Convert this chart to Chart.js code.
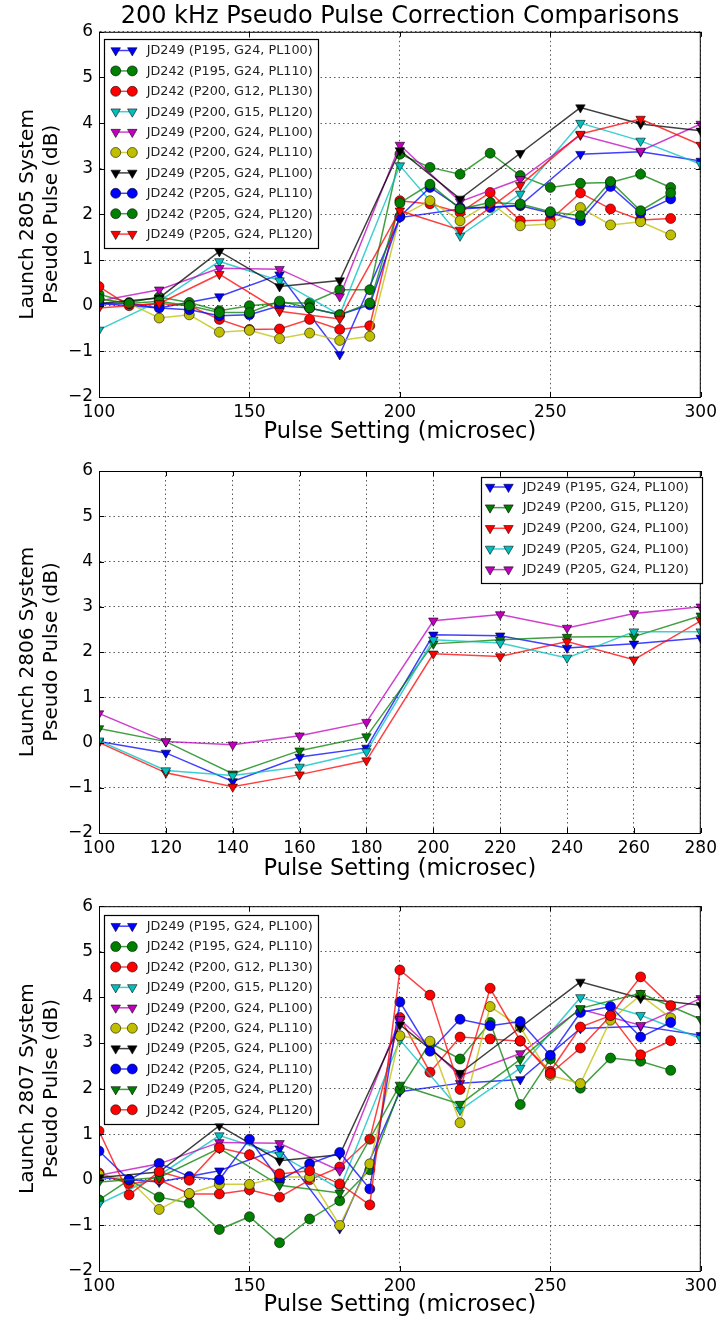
<!DOCTYPE html>
<html>
<head>
<meta charset="utf-8">
<script src="https://cdn.jsdelivr.net/npm/chart.js@4/dist/chart.umd.min.js"></script>
<style>
  html, body { margin: 0; padding: 0; background: #fff; }
  #wrap { position: relative; width: 722px; height: 1323px; }
  canvas { position: absolute; left: 0; }
</style>
</head>
<body>
<div id="wrap">
  <canvas id="c1" width="722" height="450" style="top:0px"></canvas>
  <canvas id="c2" width="722" height="440" style="top:450px"></canvas>
  <canvas id="c3" width="722" height="433" style="top:890px"></canvas>
</div>
<script>
// x positions
var X10 = [100, 110, 120, 130, 140, 150, 160, 170, 180, 190, 200, 210, 220, 230, 240, 250, 260, 270, 280, 290];
var X20 = [100, 120, 140, 160, 180, 200, 220, 240, 260, 280, 300];
var X20short = [100, 120, 140, 160, 180, 200, 220, 240, 260, 280];
var yTicks = [-2, -1, 0, 1, 2, 3, 4, 5, 6];

// JD249 runs (shared by launch 2805 and 2807)
var jd249_p195_g24_pl100 = [0.05, -0.05, 0.2, 0.68, -1.07, 1.93, 2.12, 2.2, 3.32, 3.37, 3.17];
var jd249_p200_g15_pl120 = [-0.53, 0.1, 0.97, 0.55, -0.2, 3.07, 1.53, 2.45, 4.0, 3.61, 3.1];
var jd249_p200_g24_pl100 = [0.1, 0.35, 0.82, 0.8, 0.2, 3.52, 2.28, 2.77, 3.74, 3.39, 3.98];
var jd249_p205_g24_pl100 = [0.05, 0.17, 1.19, 0.42, 0.55, 3.4, 2.34, 3.34, 4.34, 3.98, 3.83];
var jd249_p205_g24_pl120 = [-0.05, 0.05, 0.69, -0.12, -0.29, 2.08, 1.66, 2.64, 3.76, 4.09, 3.52];

// launch 2805, JD242 runs
var l2805_jd242_p195_pl110 = [0.25, 0.07, 0.19, 0.07, -0.11, 0.0, 0.06, 0.06, 0.35, 0.35, 3.32, 3.03, 2.88, 3.34, 2.85, 2.59, 2.68, 2.7, 2.88, 2.59];
var l2805_jd242_p200_g12_pl130 = [0.42, 0.0, 0.05, 0.0, -0.3, -0.52, -0.51, -0.3, -0.52, -0.44, 2.3, 2.23, 2.04, 2.48, 1.86, 1.88, 2.47, 2.12, 1.88, 1.91];
var l2805_jd242_p200_pl110 = [0.15, 0.05, -0.27, -0.2, -0.58, -0.54, -0.72, -0.6, -0.76, -0.67, 1.95, 2.3, 1.86, 2.26, 1.75, 1.79, 2.15, 1.77, 1.84, 1.55];
var l2805_jd242_p205_pl110 = [0.05, 0.05, -0.05, -0.09, -0.22, -0.2, 0.0, -0.05, -0.2, 0.02, 1.95, 2.59, 2.15, 2.15, 2.19, 2.03, 1.86, 2.61, 2.03, 2.34];
var l2805_jd242_p205_pl120 = [0.15, 0.05, 0.1, 0.0, -0.15, -0.15, 0.1, -0.05, -0.2, 0.06, 2.25, 2.66, 2.12, 2.26, 2.23, 2.06, 1.97, 2.72, 2.08, 2.47];

// launch 2806
var l2806_p195_g24_pl100 = [0.02, -0.23, -0.86, -0.32, -0.12, 2.38, 2.36, 2.09, 2.18, 2.31];
var l2806_p200_g15_pl120 = [0.31, 0.02, -0.69, -0.18, 0.13, 2.18, 2.27, 2.33, 2.34, 2.8];
var l2806_p200_g24_pl100 = [0.0, -0.67, -0.98, -0.71, -0.4, 1.96, 1.9, 2.23, 1.83, 2.69];
var l2806_p205_g24_pl100 = [0.04, -0.62, -0.73, -0.54, -0.2, 2.27, 2.2, 1.87, 2.45, 2.45];
var l2806_p205_g24_pl120 = [0.64, 0.02, -0.05, 0.15, 0.45, 2.69, 2.83, 2.53, 2.85, 3.0];

// launch 2807, JD242 runs
var l2807_jd242_p195_pl110 = [-0.44, 0.0, -0.38, -0.51, -1.09, -0.81, -1.38, -0.86, -0.46, 0.22, 1.98, 3.0, 2.65, 3.45, 1.65, 2.65, 2.01, 2.67, 2.6, 2.4];
var l2807_jd242_p200_g12_pl130 = [0.15, -0.09, 0.0, -0.31, -0.31, -0.22, -0.38, 0.0, 0.28, 0.89, 3.56, 2.36, 3.13, 3.09, 3.04, 2.38, 3.35, 3.6, 2.74, 3.05];
var l2807_jd242_p200_pl110 = [0.11, 0.0, -0.65, -0.3, -0.1, -0.1, 0.06, 0.06, -1.0, 0.35, 3.16, 3.04, 1.25, 3.8, 3.35, 2.29, 2.11, 3.5, 4.05, 3.55];
var l2807_jd242_p205_pl110 = [0.63, 0.0, 0.36, 0.07, 0.0, 0.89, -0.01, 0.35, 0.6, -0.2, 3.9, 2.82, 3.52, 3.38, 3.47, 2.73, 3.67, 3.8, 3.13, 3.45];
var l2807_jd242_p205_pl120 = [1.07, -0.33, 0.18, -0.01, 0.7, 0.55, 0.13, 0.2, -0.09, -0.55, 4.6, 4.05, 1.98, 4.2, 3.05, 2.33, 2.89, 3.6, 4.45, 3.82];

var COLORS = {
  b: [0, 0, 255], g: [0, 128, 0], r: [255, 0, 0], c: [0, 191, 191],
  m: [191, 0, 191], y: [191, 191, 0], k: [0, 0, 0]
};

function rgba(c, a) {
  var v = COLORS[c];
  return "rgba(" + v[0] + "," + v[1] + "," + v[2] + "," + a + ")";
}

function series(label, xs, ys, c, marker, i) {
  var tri = marker === "v";
  return {
    label: label,
    data: xs.map(function (x, k) { return { x: x, y: ys[k] }; }),
    borderColor: rgba(c, 0.75),
    backgroundColor: rgba(c, 1),
    pointBackgroundColor: rgba(c, 1),
    pointBorderColor: "rgba(0,0,0,0.7)",
    pointBorderWidth: 0.8,
    pointStyle: tri ? "triangle" : "circle",
    pointRotation: tri ? 180 : 0,
    pointRadius: tri ? 5.5 : 5,
    pointHoverRadius: tri ? 5.5 : 5,
    borderWidth: 1.5,
    tension: 0,
    fill: false,
    order: 100 - i
  };
}

// legend drawn inside the axes, matplotlib style
var boxLegend = {
  id: "boxLegend",
  afterDatasetsDraw: function (chart, args, o) {
    var ctx = chart.ctx, a = chart.chartArea;
    ctx.save();
    // axes frame + inward ticks
    ctx.strokeStyle = "#000";
    ctx.lineWidth = 1;
    ctx.strokeRect(a.left + 0.5, a.top + 0.5, a.right - a.left - 1, a.bottom - a.top);
    var xs = chart.scales.x, ys = chart.scales.y;
    ctx.beginPath();
    xs.ticks.forEach(function (t) {
      var px = Math.round(xs.getPixelForValue(t.value)) + 0.5;
      ctx.moveTo(px, a.bottom); ctx.lineTo(px, a.bottom - 5);
      ctx.moveTo(px, a.top); ctx.lineTo(px, a.top + 5);
    });
    ys.ticks.forEach(function (t) {
      var py = Math.round(ys.getPixelForValue(t.value)) + 0.5;
      ctx.moveTo(a.left, py); ctx.lineTo(a.left + 5, py);
      ctx.moveTo(a.right, py); ctx.lineTo(a.right - 5, py);
    });
    ctx.stroke();

    if (!o || !o.show) { ctx.restore(); return; }
    var bx = o.right ? a.right - o.dx - o.w : a.left + o.dx;
    var by = a.top + o.dy;
    ctx.fillStyle = "#fff";
    ctx.fillRect(bx, by, o.w, o.h);
    ctx.strokeStyle = "#000";
    ctx.lineWidth = 1.2;
    ctx.strokeRect(Math.round(bx) + 0.5, Math.round(by) + 0.5, o.w, o.h);
    ctx.font = "12.8px 'DejaVu Sans', sans-serif";
    ctx.textBaseline = "middle";
    ctx.textAlign = "left";
    chart.data.datasets.forEach(function (ds, i) {
      var y = by + o.first + i * o.step;
      ctx.strokeStyle = ds.borderColor;
      ctx.lineWidth = ds.borderWidth;
      ctx.beginPath();
      ctx.moveTo(bx + o.m1, y); ctx.lineTo(bx + o.m2, y);
      ctx.stroke();
      [o.m1, o.m2].forEach(function (mx) {
        ctx.fillStyle = ds.pointBackgroundColor;
        ctx.strokeStyle = ds.pointBorderColor;
        ctx.lineWidth = ds.pointBorderWidth;
        Chart.helpers.drawPoint(ctx, {
          pointStyle: ds.pointStyle, rotation: ds.pointRotation,
          radius: ds.pointRadius, borderWidth: ds.pointBorderWidth
        }, bx + mx, y);
      });
      ctx.fillStyle = "#222";
      ctx.fillText(ds.label, bx + o.tx, y + 0.5);
    });
    ctx.restore();
  }
};

Chart.defaults.font.family = "'DejaVu Sans', sans-serif";
Chart.defaults.color = "#000";

function makeOptions(cfg) {
  return {
    responsive: false,
    animation: false,
    layout: { padding: { top: cfg.padTop, right: 18, left: 0, bottom: 0 } },
    plugins: {
      legend: { display: false },
      tooltip: { enabled: false },
      title: cfg.title ? {
        display: true, text: cfg.title, fullSize: false, color: "#000",
        font: { size: 24, weight: "normal", lineHeight: 1.2 },
        padding: { top: 2, bottom: 1 }
      } : { display: false },
      boxLegend: cfg.legend
    },
    scales: {
      x: {
        type: "linear", min: cfg.xmin, max: cfg.xmax,
        ticks: {
          stepSize: cfg.xstep, autoSkip: false, maxRotation: 0, padding: 5,
          color: "#000", font: { size: 17 },
          callback: function (v) { return String(v); }
        },
        grid: { color: "rgba(0,0,0,0.65)", lineWidth: 1, drawTicks: false, borderDash: [1.5, 3] },
        border: { display: true, color: "rgba(0,0,0,0)", dash: [1.5, 3] },
        title: {
          display: true, text: "Pulse Setting (microsec)", color: "#000",
          font: { size: 22.5 }, padding: { top: 0, bottom: cfg.xTitlePad }
        },
        afterFit: function (s) { s.height = cfg.xHeight; }
      },
      y: {
        min: -2, max: 6,
        afterBuildTicks: function (s) { s.ticks = yTicks.map(function (v) { return { value: v }; }); },
        ticks: {
          padding: 6, color: "#000", font: { size: 17 },
          callback: function (v) { return v < 0 ? "\u2212" + Math.abs(v) : String(v); }
        },
        grid: { color: "rgba(0,0,0,0.65)", lineWidth: 1, drawTicks: false, borderDash: [1.5, 3] },
        border: { display: true, color: "rgba(0,0,0,0)", dash: [1.5, 3] },
        title: {
          display: true, text: cfg.ylabel, color: "#000",
          font: { size: 20, lineHeight: 1.2 }, padding: { top: 16, bottom: 0 }
        },
        afterFit: function (s) { s.width = 99; }
      }
    }
  };
}

var legendTall = { show: true, dx: 5, dy: 7, w: 214, h: 209, first: 11.7, step: 20.4, m1: 11.7, m2: 28.3, tx: 42.7 };

function drawCharts() {
  var names1 = [
    "JD249 (P195, G24, PL100)", "JD242 (P195, G24, PL110)", "JD242 (P200, G12, PL130)",
    "JD249 (P200, G15, PL120)", "JD249 (P200, G24, PL100)", "JD242 (P200, G24, PL110)",
    "JD249 (P205, G24, PL100)", "JD242 (P205, G24, PL110)", "JD242 (P205, G24, PL120)",
    "JD249 (P205, G24, PL120)"
  ];
  new Chart(document.getElementById("c1").getContext("2d"), {
    type: "line",
    data: {
      datasets: [
        series(names1[0], X20, jd249_p195_g24_pl100, "b", "v", 0),
        series(names1[1], X10, l2805_jd242_p195_pl110, "g", "o", 1),
        series(names1[2], X10, l2805_jd242_p200_g12_pl130, "r", "o", 2),
        series(names1[3], X20, jd249_p200_g15_pl120, "c", "v", 3),
        series(names1[4], X20, jd249_p200_g24_pl100, "m", "v", 4),
        series(names1[5], X10, l2805_jd242_p200_pl110, "y", "o", 5),
        series(names1[6], X20, jd249_p205_g24_pl100, "k", "v", 6),
        series(names1[7], X10, l2805_jd242_p205_pl110, "b", "o", 7),
        series(names1[8], X10, l2805_jd242_p205_pl120, "g", "o", 8),
        series(names1[9], X20, jd249_p205_g24_pl120, "r", "v", 9)
      ]
    },
    options: makeOptions({
      title: "200 kHz Pseudo Pulse Correction Comparisons", padTop: 0,
      xmin: 100, xmax: 300, xstep: 50, xHeight: 53, xTitlePad: 4,
      ylabel: ["Launch 2805 System", "Pseudo Pulse (dB)"], legend: legendTall
    }),
    plugins: [boxLegend]
  });

  new Chart(document.getElementById("c2").getContext("2d"), {
    type: "line",
    data: {
      datasets: [
        series("JD249 (P195, G24, PL100)", X20short, l2806_p195_g24_pl100, "b", "v", 0),
        series("JD249 (P200, G15, PL120)", X20short, l2806_p200_g15_pl120, "g", "v", 1),
        series("JD249 (P200, G24, PL100)", X20short, l2806_p200_g24_pl100, "r", "v", 2),
        series("JD249 (P205, G24, PL100)", X20short, l2806_p205_g24_pl100, "c", "v", 3),
        series("JD249 (P205, G24, PL120)", X20short, l2806_p205_g24_pl120, "m", "v", 4)
      ]
    },
    options: makeOptions({
      padTop: 21, xmin: 100, xmax: 280, xstep: 20, xHeight: 57, xTitlePad: 7,
      ylabel: ["Launch 2806 System", "Pseudo Pulse (dB)"],
      legend: { show: true, right: true, dx: -1, dy: 6, w: 221, h: 106, first: 10, step: 20.65, m1: 9.3, m2: 27.7, tx: 42 }
    }),
    plugins: [boxLegend]
  });

  var names3 = names1.slice();
  names3[8] = "JD249 (P205, G24, PL120)";
  names3[9] = "JD242 (P205, G24, PL120)";
  new Chart(document.getElementById("c3").getContext("2d"), {
    type: "line",
    data: {
      datasets: [
        series(names3[0], X20, jd249_p195_g24_pl100, "b", "v", 0),
        series(names3[1], X10, l2807_jd242_p195_pl110, "g", "o", 1),
        series(names3[2], X10, l2807_jd242_p200_g12_pl130, "r", "o", 2),
        series(names3[3], X20, jd249_p200_g15_pl120, "c", "v", 3),
        series(names3[4], X20, jd249_p200_g24_pl100, "m", "v", 4),
        series(names3[5], X10, l2807_jd242_p200_pl110, "y", "o", 5),
        series(names3[6], X20, jd249_p205_g24_pl100, "k", "v", 6),
        series(names3[7], X10, l2807_jd242_p205_pl110, "b", "o", 7),
        series(names3[8], X20, jd249_p205_g24_pl120, "g", "v", 8),
        series(names3[9], X10, l2807_jd242_p205_pl120, "r", "o", 9)
      ]
    },
    options: makeOptions({
      padTop: 15, xmin: 100, xmax: 300, xstep: 50, xHeight: 52, xTitlePad: 4,
      ylabel: ["Launch 2807 System", "Pseudo Pulse (dB)"],
      legend: { show: true, dx: 5, dy: 8.3, w: 214, h: 209, first: 11.7, step: 20.4, m1: 11.7, m2: 28.3, tx: 42.7 }
    }),
    plugins: [boxLegend]
  });
}
window.onload = drawCharts;
</script>
</body>
</html>
